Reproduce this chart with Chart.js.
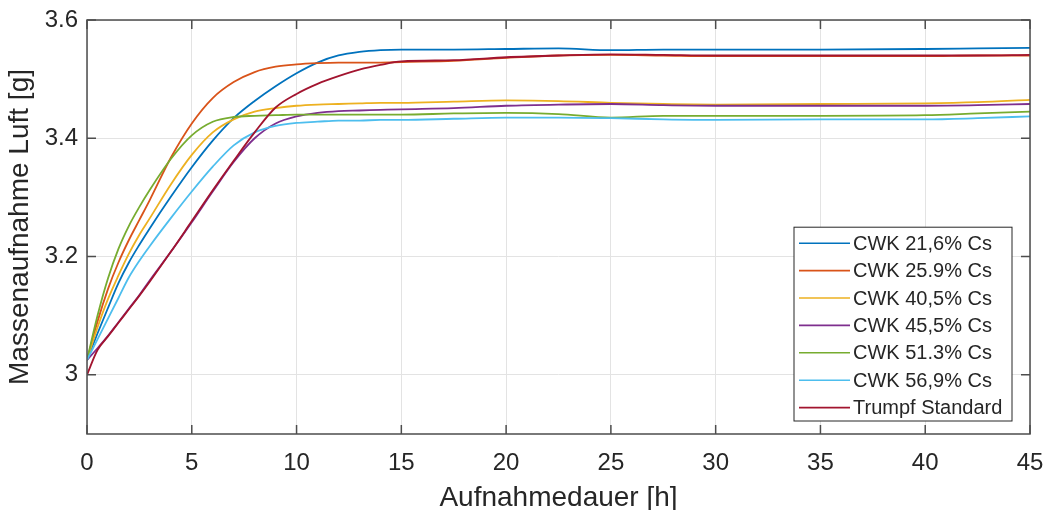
<!DOCTYPE html>
<html>
<head>
<meta charset="utf-8">
<script src="https://cdn.jsdelivr.net/npm/chart.js@4.4.1/dist/chart.umd.min.js"></script>
<style>
  html, body { margin: 0; padding: 0; background: #ffffff; }
  #wrap { width: 1046px; height: 510px; }
</style>
</head>
<body>
<div id="wrap"><canvas id="myChart"></canvas></div>
<script>
// Aufnahmedauer [h]
var hours = [0, 0.5, 1, 1.5, 2, 2.5, 3, 4, 5, 6, 7, 8, 9, 10, 11, 12, 13, 14, 15, 17.5, 20, 22.5, 25, 27.5, 30, 35, 40, 42.5, 45];

// Massenaufnahme Luft [g]
var cwk216 = [3.025, 3.07, 3.113, 3.155, 3.19, 3.22, 3.248, 3.301, 3.351, 3.396, 3.434, 3.463, 3.488, 3.51, 3.528, 3.54, 3.546, 3.549, 3.55, 3.55, 3.551, 3.552, 3.549, 3.55, 3.55, 3.55, 3.551, 3.552, 3.553];
var cwk259 = [3.025, 3.09, 3.145, 3.19, 3.228, 3.262, 3.296, 3.367, 3.425, 3.468, 3.495, 3.512, 3.521, 3.525, 3.527, 3.528, 3.528, 3.528, 3.529, 3.531, 3.536, 3.54, 3.541, 3.54, 3.539, 3.539, 3.539, 3.54, 3.54];
var cwk405 = [3.025, 3.08, 3.128, 3.168, 3.205, 3.237, 3.265, 3.322, 3.372, 3.41, 3.432, 3.445, 3.451, 3.455, 3.457, 3.458, 3.459, 3.46, 3.46, 3.462, 3.464, 3.463, 3.46, 3.458, 3.457, 3.458, 3.459, 3.461, 3.465];
var cwk455 = [3.025, 3.045, 3.066, 3.089, 3.112, 3.135, 3.16, 3.208, 3.258, 3.31, 3.36, 3.4, 3.425, 3.437, 3.443, 3.446, 3.447, 3.448, 3.449, 3.451, 3.455, 3.457, 3.458, 3.456, 3.455, 3.455, 3.455, 3.456, 3.458];
var cwk513 = [3.025, 3.1, 3.163, 3.213, 3.252, 3.284, 3.313, 3.365, 3.405, 3.428, 3.436, 3.438, 3.439, 3.44, 3.44, 3.44, 3.44, 3.44, 3.44, 3.442, 3.443, 3.441, 3.435, 3.438, 3.438, 3.438, 3.439, 3.442, 3.445];
var cwk569 = [3.025, 3.06, 3.095, 3.13, 3.165, 3.193, 3.218, 3.265, 3.31, 3.352, 3.388, 3.41, 3.421, 3.426, 3.428, 3.43, 3.43, 3.431, 3.431, 3.433, 3.435, 3.435, 3.434, 3.432, 3.431, 3.432, 3.432, 3.434, 3.437];
var trumpf = [3.0, 3.042, 3.065, 3.088, 3.111, 3.134, 3.158, 3.208, 3.26, 3.312, 3.362, 3.41, 3.452, 3.475, 3.492, 3.505, 3.516, 3.524, 3.53, 3.532, 3.537, 3.54, 3.542, 3.541, 3.54, 3.54, 3.54, 3.54, 3.541];

var seriesNames = ['CWK 21,6% Cs', 'CWK 25.9% Cs', 'CWK 40,5% Cs', 'CWK 45,5% Cs', 'CWK 51.3% Cs', 'CWK 56,9% Cs', 'Trumpf Standard'];
var seriesValues = [cwk216, cwk259, cwk405, cwk455, cwk513, cwk569, trumpf];
var seriesColors = ['#0072BD', '#D95319', '#EDB120', '#7E2F8E', '#77AC30', '#4DBEEE', '#A2142F'];

var xTicks = [0, 5, 10, 15, 20, 25, 30, 35, 40, 45];
var yTicks = [3, 3.2, 3.4, 3.6];

var FONT = '"Liberation Sans", Arial, Helvetica, sans-serif';
var TEXT = '#262626';

function toPoints(values) {
  return hours.map(function (h, i) { return { x: h, y: values[i] }; });
}

var datasets = [];
for (var i = 0; i < seriesValues.length; i++) {
  datasets.push({
    label: seriesNames[i],
    data: toPoints(seriesValues[i]),
    borderColor: seriesColors[i],
    borderWidth: 1.8,
    fill: false,
    pointRadius: 0,
    cubicInterpolationMode: 'monotone',
    order: seriesValues.length - i   // later series drawn on top, like MATLAB
  });
}

// box around the axes with inward ticks
var axesBox = {
  id: 'axesBox',
  afterDatasetsDraw: function (chart) {
    var ctx = chart.ctx, a = chart.chartArea;
    var sx = chart.scales.x, sy = chart.scales.y;
    ctx.save();
    ctx.strokeStyle = '#4d4d4d';
    ctx.lineWidth = 1.5;
    ctx.strokeRect(a.left, a.top, a.right - a.left, a.bottom - a.top);
    ctx.beginPath();
    xTicks.forEach(function (v) {
      var px = sx.getPixelForValue(v);
      ctx.moveTo(px, a.bottom); ctx.lineTo(px, a.bottom - 9);
      ctx.moveTo(px, a.top); ctx.lineTo(px, a.top + 9);
    });
    yTicks.forEach(function (v) {
      var py = sy.getPixelForValue(v);
      ctx.moveTo(a.left, py); ctx.lineTo(a.left + 9, py);
      ctx.moveTo(a.right, py); ctx.lineTo(a.right - 9, py);
    });
    ctx.stroke();
    ctx.restore();
  }
};

// MATLAB style legend, bottom right inside the axes
var boxLegend = {
  id: 'boxLegend',
  afterDraw: function (chart) {
    var ctx = chart.ctx, a = chart.chartArea;
    var ds = chart.data.datasets;
    var rowH = 27.4;
    var w = 218, h = rowH * ds.length + 2;
    var right = a.right - 18, bottom = a.bottom - 13;
    var left = right - w, top = bottom - h;
    ctx.save();
    ctx.fillStyle = '#ffffff';
    ctx.fillRect(left, top, w, h);
    ctx.strokeStyle = '#262626';
    ctx.lineWidth = 1;
    ctx.strokeRect(left, top, w, h);
    ctx.font = '20px ' + FONT;
    ctx.textBaseline = 'middle';
    ctx.textAlign = 'left';
    for (var k = 0; k < ds.length; k++) {
      var y = top + 16 + k * rowH;
      ctx.strokeStyle = ds[k].borderColor;
      ctx.lineWidth = 1.6;
      ctx.beginPath();
      ctx.moveTo(left + 5, y);
      ctx.lineTo(left + 56, y);
      ctx.stroke();
      ctx.fillStyle = TEXT;
      ctx.fillText(ds[k].label, left + 59, y + 1);
    }
    ctx.restore();
  }
};

var chart = new Chart(document.getElementById('myChart'), {
  type: 'line',
  data: { datasets: datasets },
  plugins: [axesBox, boxLegend],
  options: {
    animation: false,
    responsive: true,
    maintainAspectRatio: false,
    devicePixelRatio: 1,
    events: [],
    layout: { padding: { top: 20, right: 16, left: 0, bottom: 0 } },
    plugins: {
      legend: { display: false },
      tooltip: { enabled: false }
    },
    scales: {
      x: {
        type: 'linear',
        min: 0,
        max: 45,
        afterBuildTicks: function (axis) {
          axis.ticks = xTicks.map(function (v) { return { value: v }; });
        },
        afterFit: function (axis) {
          axis.height = 76;
          axis.paddingLeft = 0;
          axis.paddingRight = 0;
        },
        border: { display: false },
        grid: { color: '#e3e3e3', lineWidth: 1, drawTicks: false },
        ticks: {
          autoSkip: false,
          maxRotation: 0,
          padding: 15,
          color: TEXT,
          font: { family: FONT, size: 24 },
          callback: function (v) { return String(v); }
        },
        title: {
          display: true,
          text: 'Aufnahmedauer [h]',
          color: TEXT,
          font: { family: FONT, size: 28 },
          padding: { top: 0, bottom: -5 }
        }
      },
      y: {
        type: 'linear',
        min: 2.9,
        max: 3.6,
        afterBuildTicks: function (axis) {
          axis.ticks = yTicks.map(function (v) { return { value: v }; });
        },
        afterFit: function (axis) {
          axis.width = 87;
          axis.paddingTop = 0;
          axis.paddingBottom = 0;
        },
        border: { display: false },
        grid: { color: '#e3e3e3', lineWidth: 1, drawTicks: false },
        ticks: {
          padding: 9,
          color: TEXT,
          font: { family: FONT, size: 24 },
          callback: function (v) { return String(Math.round(v * 10) / 10); }
        },
        title: {
          display: true,
          text: 'Massenaufnahme Luft [g]',
          color: TEXT,
          font: { family: FONT, size: 28 },
          padding: { top: 3, bottom: 0 }
        }
      }
    }
  }
});
</script>
</body>
</html>
